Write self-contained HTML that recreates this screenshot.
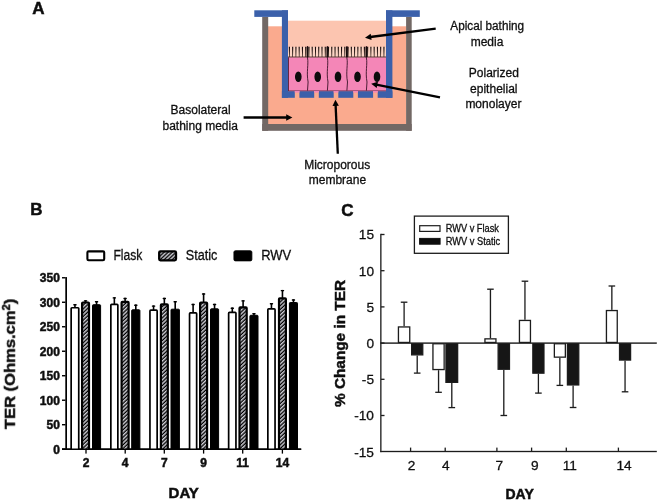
<!DOCTYPE html><html><head><meta charset="utf-8"><title>Figure</title>
<style>html,body{margin:0;padding:0;background:#fff;}body{width:658px;height:500px;overflow:hidden;}svg{display:block;font-family:"Liberation Sans",sans-serif;}</style></head><body>
<svg width="658" height="500" viewBox="0 0 658 500">
<defs>
<pattern id="hatch" patternUnits="userSpaceOnUse" width="2.75" height="2.75" patternTransform="rotate(-43)"><rect width="2.75" height="2.75" fill="#000"/><rect width="2.75" height="1.45" fill="#cfcfd6"/></pattern>
<filter id="soft" x="-5%" y="-5%" width="110%" height="110%"><feGaussianBlur stdDeviation="0.35"/></filter>
<filter id="idf" x="0" y="0" width="100%" height="100%" filterUnits="userSpaceOnUse"><feGaussianBlur stdDeviation="0.25"/></filter>
<clipPath id="cb"><rect x="60" y="270" width="245" height="179.2"/></clipPath>
</defs>
<rect width="658" height="500" fill="#fff"/>
<g filter="url(#soft)">
<rect x="268" y="26.3" width="138.2" height="98" fill="#FAAA8E"/>
<rect x="262.2" y="16.9" width="6" height="113.9" fill="#726865"/>
<rect x="406.1" y="16.9" width="5.6" height="113.9" fill="#726865"/>
<rect x="262.2" y="124" width="149.5" height="6.8" fill="#726865"/>
<rect x="288" y="20.7" width="98" height="37" fill="#FCC5B0"/>
<rect x="288" y="57" width="98" height="34.6" fill="#F486B7"/>
<rect x="288" y="57" width="0.7" height="34" fill="#5a2038"/>
<rect x="288" y="90.7" width="98" height="0.6" fill="#6a2848"/>
<rect x="288" y="57" width="0.7" height="34" fill="#5a2038"/>
<rect x="288" y="90.7" width="98" height="0.6" fill="#6a2848"/>
<rect x="254.3" y="10.3" width="33.7" height="6.6" fill="#3A60AA"/>
<rect x="386" y="10.3" width="33.8" height="6.6" fill="#3A60AA"/>
<rect x="281.9" y="10.3" width="6.1" height="87.5" fill="#3A60AA"/>
<rect x="386" y="10.3" width="6.4" height="87.5" fill="#3A60AA"/>
<rect x="281.9" y="91.3" width="110.5" height="6.5" fill="#3A60AA"/>
<rect x="294.8" y="91" width="4.6" height="7" fill="#FAAA8E"/>
<rect x="294.8" y="91" width="4.6" height="1.6" fill="#F486B7"/>
<rect x="314.2" y="91" width="4.6" height="7" fill="#FAAA8E"/>
<rect x="314.2" y="91" width="4.6" height="1.6" fill="#F486B7"/>
<rect x="333.7" y="91" width="4.6" height="7" fill="#FAAA8E"/>
<rect x="333.7" y="91" width="4.6" height="1.6" fill="#F486B7"/>
<rect x="353.3" y="91" width="4.6" height="7" fill="#FAAA8E"/>
<rect x="353.3" y="91" width="4.6" height="1.6" fill="#F486B7"/>
<rect x="373.1" y="91" width="4.6" height="7" fill="#FAAA8E"/>
<rect x="373.1" y="91" width="4.6" height="1.6" fill="#F486B7"/>
<rect x="288" y="46.9" width="98" height="10.4" fill="#FBD4C3"/>
<path d="M288.80 46.7 L290.00 46.7 L289.70 57 L289.10 57 Z" fill="#1a0c0a"/>
<path d="M292.06 46.7 L293.26 46.7 L292.96 57 L292.36 57 Z" fill="#1a0c0a"/>
<path d="M295.32 46.7 L296.52 46.7 L296.22 57 L295.62 57 Z" fill="#1a0c0a"/>
<path d="M298.58 46.7 L299.78 46.7 L299.48 57 L298.88 57 Z" fill="#1a0c0a"/>
<path d="M301.84 46.7 L303.04 46.7 L302.74 57 L302.14 57 Z" fill="#1a0c0a"/>
<path d="M305.10 46.7 L306.30 46.7 L306.00 57 L305.40 57 Z" fill="#1a0c0a"/>
<path d="M308.36 46.7 L309.56 46.7 L309.26 57 L308.66 57 Z" fill="#1a0c0a"/>
<path d="M311.62 46.7 L312.82 46.7 L312.52 57 L311.92 57 Z" fill="#1a0c0a"/>
<path d="M314.88 46.7 L316.08 46.7 L315.78 57 L315.18 57 Z" fill="#1a0c0a"/>
<path d="M318.14 46.7 L319.34 46.7 L319.04 57 L318.44 57 Z" fill="#1a0c0a"/>
<path d="M321.40 46.7 L322.60 46.7 L322.30 57 L321.70 57 Z" fill="#1a0c0a"/>
<path d="M324.66 46.7 L325.86 46.7 L325.56 57 L324.96 57 Z" fill="#1a0c0a"/>
<path d="M327.92 46.7 L329.12 46.7 L328.82 57 L328.22 57 Z" fill="#1a0c0a"/>
<path d="M331.18 46.7 L332.38 46.7 L332.08 57 L331.48 57 Z" fill="#1a0c0a"/>
<path d="M334.44 46.7 L335.64 46.7 L335.34 57 L334.74 57 Z" fill="#1a0c0a"/>
<path d="M337.70 46.7 L338.90 46.7 L338.60 57 L338.00 57 Z" fill="#1a0c0a"/>
<path d="M340.96 46.7 L342.16 46.7 L341.86 57 L341.26 57 Z" fill="#1a0c0a"/>
<path d="M344.22 46.7 L345.42 46.7 L345.12 57 L344.52 57 Z" fill="#1a0c0a"/>
<path d="M347.48 46.7 L348.68 46.7 L348.38 57 L347.78 57 Z" fill="#1a0c0a"/>
<path d="M350.74 46.7 L351.94 46.7 L351.64 57 L351.04 57 Z" fill="#1a0c0a"/>
<path d="M354.00 46.7 L355.20 46.7 L354.90 57 L354.30 57 Z" fill="#1a0c0a"/>
<path d="M357.26 46.7 L358.46 46.7 L358.16 57 L357.56 57 Z" fill="#1a0c0a"/>
<path d="M360.52 46.7 L361.72 46.7 L361.42 57 L360.82 57 Z" fill="#1a0c0a"/>
<path d="M363.78 46.7 L364.98 46.7 L364.68 57 L364.08 57 Z" fill="#1a0c0a"/>
<path d="M367.04 46.7 L368.24 46.7 L367.94 57 L367.34 57 Z" fill="#1a0c0a"/>
<path d="M370.30 46.7 L371.50 46.7 L371.20 57 L370.60 57 Z" fill="#1a0c0a"/>
<path d="M373.56 46.7 L374.76 46.7 L374.46 57 L373.86 57 Z" fill="#1a0c0a"/>
<path d="M376.82 46.7 L378.02 46.7 L377.72 57 L377.12 57 Z" fill="#1a0c0a"/>
<path d="M380.08 46.7 L381.28 46.7 L380.98 57 L380.38 57 Z" fill="#1a0c0a"/>
<path d="M383.34 46.7 L384.54 46.7 L384.24 57 L383.64 57 Z" fill="#1a0c0a"/>
<rect x="288" y="56.6" width="98" height="0.8" fill="#3a1a1a"/>
<path d="M307.5 46 L307.5 58 C308.8 64 306.2 72 308.1 82 L307.5 90.6" fill="none" stroke="#3a1228" stroke-width="0.9"/>
<rect x="306.6" y="46.7" width="1.8" height="10.5" fill="#160a0a"/>
<path d="M327.4 46 L327.4 58 C328.7 64 326.09999999999997 72 328.0 82 L327.4 90.6" fill="none" stroke="#3a1228" stroke-width="0.9"/>
<rect x="326.5" y="46.7" width="1.8" height="10.5" fill="#160a0a"/>
<path d="M346.9 46 L346.9 58 C348.2 64 345.59999999999997 72 347.5 82 L346.9 90.6" fill="none" stroke="#3a1228" stroke-width="0.9"/>
<rect x="346.0" y="46.7" width="1.8" height="10.5" fill="#160a0a"/>
<path d="M366.4 46 L366.4 58 C367.7 64 365.09999999999997 72 367.0 82 L366.4 90.6" fill="none" stroke="#3a1228" stroke-width="0.9"/>
<rect x="365.5" y="46.7" width="1.8" height="10.5" fill="#160a0a"/>
<ellipse cx="298.3" cy="76.8" rx="3.3" ry="5.3" fill="#0a0a0a"/>
<ellipse cx="317.7" cy="76.8" rx="3.3" ry="5.3" fill="#0a0a0a"/>
<ellipse cx="338.0" cy="76.8" rx="3.3" ry="5.3" fill="#0a0a0a"/>
<ellipse cx="357.5" cy="76.8" rx="3.3" ry="5.3" fill="#0a0a0a"/>
<ellipse cx="377.0" cy="76.8" rx="3.3" ry="5.3" fill="#0a0a0a"/>
</g>
<g filter="url(#idf)">
<line x1="435.7" y1="28.6" x2="370.2" y2="37.0" stroke="#000" stroke-width="2.3"/>
<polygon points="365.0,37.7 370.7,33.7 371.6,40.1" fill="#000"/>
<line x1="440.0" y1="97.3" x2="376.3" y2="84.7" stroke="#000" stroke-width="2.3"/>
<polygon points="371.2,83.7 377.9,81.8 376.7,88.0" fill="#000"/>
<line x1="243.6" y1="117.5" x2="287.2" y2="117.5" stroke="#000" stroke-width="2.3"/>
<polygon points="292.4,117.5 286.2,120.7 286.2,114.3" fill="#000"/>
<line x1="337.8" y1="153.7" x2="335.6" y2="104.9" stroke="#000" stroke-width="2.3"/>
<polygon points="335.4,99.7 338.9,105.8 332.5,106.0" fill="#000"/>
<text x="487.2" y="30.0" font-size="12" text-anchor="middle" font-weight="normal" fill="#111" stroke="#111" stroke-width="0.3" textLength="73.8" lengthAdjust="spacingAndGlyphs">Apical bathing</text>
<text x="487.0" y="46.0" font-size="12" text-anchor="middle" font-weight="normal" fill="#111" stroke="#111" stroke-width="0.3" >media</text>
<text x="493.8" y="76.6" font-size="12" text-anchor="middle" font-weight="normal" fill="#111" stroke="#111" stroke-width="0.3" >Polarized</text>
<text x="493.8" y="92.6" font-size="12" text-anchor="middle" font-weight="normal" fill="#111" stroke="#111" stroke-width="0.3" >epithelial</text>
<text x="493.4" y="107.6" font-size="12" text-anchor="middle" font-weight="normal" fill="#111" stroke="#111" stroke-width="0.3" >monolayer</text>
<text x="200.6" y="114.3" font-size="12" text-anchor="middle" font-weight="normal" fill="#111" stroke="#111" stroke-width="0.3" >Basolateral</text>
<text x="200.2" y="129.6" font-size="12" text-anchor="middle" font-weight="normal" fill="#111" stroke="#111" stroke-width="0.3" >bathing media</text>
<text x="337.2" y="169" font-size="12" text-anchor="middle" font-weight="normal" fill="#111" stroke="#111" stroke-width="0.3" >Microporous</text>
<text x="337.4" y="184.3" font-size="12" text-anchor="middle" font-weight="normal" fill="#111" stroke="#111" stroke-width="0.3" >membrane</text>
<text x="32.3" y="14.2" font-size="17" text-anchor="start" font-weight="bold" fill="#111" stroke="#111" stroke-width="0.5" >A</text>
<text x="30.2" y="215.2" font-size="17" text-anchor="start" font-weight="bold" fill="#111" stroke="#111" stroke-width="0.5" >B</text>
<text x="341.2" y="215.6" font-size="17" text-anchor="start" font-weight="bold" fill="#111" stroke="#111" stroke-width="0.5" >C</text>
<rect x="65.3" y="277.1" width="1.7" height="172.80" fill="#000"/>
<rect x="62" y="448.50" width="239.2" height="1.4" fill="#000"/>
<rect x="62" y="448.50" width="3.5" height="1.4" fill="#000"/>
<text x="59.9" y="453.5" font-size="12" text-anchor="end" font-weight="bold" fill="#111" stroke="#111" stroke-width="0.5" >0</text>
<rect x="62" y="424.01" width="3.5" height="1.4" fill="#000"/>
<text x="59.9" y="429.0" font-size="12" text-anchor="end" font-weight="bold" fill="#111" stroke="#111" stroke-width="0.5" >50</text>
<rect x="62" y="399.52" width="3.5" height="1.4" fill="#000"/>
<text x="59.9" y="404.5" font-size="12" text-anchor="end" font-weight="bold" fill="#111" stroke="#111" stroke-width="0.5" >100</text>
<rect x="62" y="375.03" width="3.5" height="1.4" fill="#000"/>
<text x="59.9" y="380.0" font-size="12" text-anchor="end" font-weight="bold" fill="#111" stroke="#111" stroke-width="0.5" >150</text>
<rect x="62" y="350.54" width="3.5" height="1.4" fill="#000"/>
<text x="59.9" y="355.5" font-size="12" text-anchor="end" font-weight="bold" fill="#111" stroke="#111" stroke-width="0.5" >200</text>
<rect x="62" y="326.05" width="3.5" height="1.4" fill="#000"/>
<text x="59.9" y="331.1" font-size="12" text-anchor="end" font-weight="bold" fill="#111" stroke="#111" stroke-width="0.5" >250</text>
<rect x="62" y="301.56" width="3.5" height="1.4" fill="#000"/>
<text x="59.9" y="306.6" font-size="12" text-anchor="end" font-weight="bold" fill="#111" stroke="#111" stroke-width="0.5" >300</text>
<rect x="62" y="277.07" width="3.5" height="1.4" fill="#000"/>
<text x="59.9" y="282.1" font-size="12" text-anchor="end" font-weight="bold" fill="#111" stroke="#111" stroke-width="0.5" >350</text>
<g clip-path="url(#cb)">
<rect x="74.15" y="304.1" width="1.6" height="3.8" fill="#000"/>
<rect x="73.25" y="304.1" width="3.4" height="1.4" rx="0.4" fill="#000"/>
<rect x="71.15" y="307.75" width="7.60" height="145.30" rx="0.8" fill="#fff" stroke="#000" stroke-width="1.7"/>
<rect x="84.75" y="300.2" width="1.6" height="2.2" fill="#000"/>
<rect x="83.85" y="300.2" width="3.4" height="1.4" rx="0.4" fill="#000"/>
<rect x="82.10" y="302.50" width="6.90" height="150.80" rx="0.8" fill="url(#hatch)" stroke="#000" stroke-width="2.2"/>
<rect x="95.75" y="301.0" width="1.6" height="4.2" fill="#000"/>
<rect x="94.85" y="301.0" width="3.4" height="1.4" rx="0.4" fill="#000"/>
<rect x="92.50" y="304.70" width="8.10" height="148.00" rx="0.8" fill="#000" stroke="#000" stroke-width="1.0"/>
<rect x="113.55" y="297.2" width="1.6" height="7.3" fill="#000"/>
<rect x="112.65" y="297.2" width="3.4" height="1.4" rx="0.4" fill="#000"/>
<rect x="110.85" y="304.35" width="7.00" height="148.70" rx="0.8" fill="#fff" stroke="#000" stroke-width="1.7"/>
<rect x="124.30" y="297.8" width="1.6" height="4.0" fill="#000"/>
<rect x="123.40" y="297.8" width="3.4" height="1.4" rx="0.4" fill="#000"/>
<rect x="121.60" y="301.90" width="7.00" height="151.40" rx="0.8" fill="url(#hatch)" stroke="#000" stroke-width="2.2"/>
<rect x="135.00" y="304.5" width="1.6" height="5.8" fill="#000"/>
<rect x="134.10" y="304.5" width="3.4" height="1.4" rx="0.4" fill="#000"/>
<rect x="131.70" y="309.80" width="8.20" height="142.90" rx="0.8" fill="#000" stroke="#000" stroke-width="1.0"/>
<rect x="152.75" y="305.4" width="1.6" height="4.9" fill="#000"/>
<rect x="151.85" y="305.4" width="3.4" height="1.4" rx="0.4" fill="#000"/>
<rect x="149.95" y="310.15" width="7.20" height="142.90" rx="0.8" fill="#fff" stroke="#000" stroke-width="1.7"/>
<rect x="163.55" y="297.8" width="1.6" height="6.4" fill="#000"/>
<rect x="162.65" y="297.8" width="3.4" height="1.4" rx="0.4" fill="#000"/>
<rect x="160.90" y="304.30" width="6.90" height="149.00" rx="0.8" fill="url(#hatch)" stroke="#000" stroke-width="2.2"/>
<rect x="174.40" y="301.0" width="1.6" height="8.7" fill="#000"/>
<rect x="173.50" y="301.0" width="3.4" height="1.4" rx="0.4" fill="#000"/>
<rect x="171.00" y="309.20" width="8.40" height="143.50" rx="0.8" fill="#000" stroke="#000" stroke-width="1.0"/>
<rect x="192.30" y="303.8" width="1.6" height="9.2" fill="#000"/>
<rect x="191.40" y="303.8" width="3.4" height="1.4" rx="0.4" fill="#000"/>
<rect x="189.55" y="312.85" width="7.10" height="140.20" rx="0.8" fill="#fff" stroke="#000" stroke-width="1.7"/>
<rect x="202.80" y="293.3" width="1.6" height="9.1" fill="#000"/>
<rect x="201.90" y="293.3" width="3.4" height="1.4" rx="0.4" fill="#000"/>
<rect x="200.10" y="302.50" width="7.00" height="150.80" rx="0.8" fill="url(#hatch)" stroke="#000" stroke-width="2.2"/>
<rect x="213.75" y="303.8" width="1.6" height="5.5" fill="#000"/>
<rect x="212.85" y="303.8" width="3.4" height="1.4" rx="0.4" fill="#000"/>
<rect x="210.50" y="308.80" width="8.10" height="143.90" rx="0.8" fill="#000" stroke="#000" stroke-width="1.0"/>
<rect x="231.50" y="307.5" width="1.6" height="5.0" fill="#000"/>
<rect x="230.60" y="307.5" width="3.4" height="1.4" rx="0.4" fill="#000"/>
<rect x="228.65" y="312.35" width="7.30" height="140.70" rx="0.8" fill="#fff" stroke="#000" stroke-width="1.7"/>
<rect x="242.30" y="300.2" width="1.6" height="7.1" fill="#000"/>
<rect x="241.40" y="300.2" width="3.4" height="1.4" rx="0.4" fill="#000"/>
<rect x="239.50" y="307.40" width="7.20" height="145.90" rx="0.8" fill="url(#hatch)" stroke="#000" stroke-width="2.2"/>
<rect x="253.15" y="313.0" width="1.6" height="2.8" fill="#000"/>
<rect x="252.25" y="313.0" width="3.4" height="1.4" rx="0.4" fill="#000"/>
<rect x="249.90" y="315.30" width="8.10" height="137.40" rx="0.8" fill="#000" stroke="#000" stroke-width="1.0"/>
<rect x="270.65" y="303.0" width="1.6" height="6.1" fill="#000"/>
<rect x="269.75" y="303.0" width="3.4" height="1.4" rx="0.4" fill="#000"/>
<rect x="267.85" y="308.95" width="7.20" height="144.10" rx="0.8" fill="#fff" stroke="#000" stroke-width="1.7"/>
<rect x="281.65" y="289.9" width="1.6" height="8.3" fill="#000"/>
<rect x="280.75" y="289.9" width="3.4" height="1.4" rx="0.4" fill="#000"/>
<rect x="279.00" y="298.30" width="6.90" height="155.00" rx="0.8" fill="url(#hatch)" stroke="#000" stroke-width="2.2"/>
<rect x="292.65" y="299.3" width="1.6" height="3.7" fill="#000"/>
<rect x="291.75" y="299.3" width="3.4" height="1.4" rx="0.4" fill="#000"/>
<rect x="289.40" y="302.50" width="8.10" height="150.20" rx="0.8" fill="#000" stroke="#000" stroke-width="1.0"/>
</g>
<rect x="62" y="448.50" width="239.2" height="1.4" fill="#000"/>
<rect x="85.35" y="449.2" width="1.3" height="4.4" fill="#000"/>
<text x="86" y="467.3" font-size="12" text-anchor="middle" font-weight="bold" fill="#111" stroke="#111" stroke-width="0.5" >2</text>
<rect x="124.55" y="449.2" width="1.3" height="4.4" fill="#000"/>
<text x="125.2" y="467.3" font-size="12" text-anchor="middle" font-weight="bold" fill="#111" stroke="#111" stroke-width="0.5" >4</text>
<rect x="163.65" y="449.2" width="1.3" height="4.4" fill="#000"/>
<text x="164.3" y="467.3" font-size="12" text-anchor="middle" font-weight="bold" fill="#111" stroke="#111" stroke-width="0.5" >7</text>
<rect x="202.95" y="449.2" width="1.3" height="4.4" fill="#000"/>
<text x="203.6" y="467.3" font-size="12" text-anchor="middle" font-weight="bold" fill="#111" stroke="#111" stroke-width="0.5" >9</text>
<rect x="242.05" y="449.2" width="1.3" height="4.4" fill="#000"/>
<text x="242.7" y="467.3" font-size="12" text-anchor="middle" font-weight="bold" fill="#111" stroke="#111" stroke-width="0.5" >11</text>
<rect x="281.75" y="449.2" width="1.3" height="4.4" fill="#000"/>
<text x="282.4" y="467.3" font-size="12" text-anchor="middle" font-weight="bold" fill="#111" stroke="#111" stroke-width="0.5" >14</text>
<text x="183.7" y="497.8" font-size="15" text-anchor="middle" font-weight="bold" fill="#111" stroke="#111" stroke-width="0.5" >DAY</text>
<text transform="translate(14.9,429.2) rotate(-90)" font-size="15" font-weight="bold" fill="#111" stroke="#111" stroke-width="0.45" textLength="130.5" lengthAdjust="spacingAndGlyphs">TER (Ohms.cm<tspan font-size="10" dy="-5">2</tspan><tspan dy="5">)</tspan></text>
<rect x="87.4" y="251.4" width="16.8" height="8.9" rx="1.2" fill="#fff" stroke="#000" stroke-width="2.1"/>
<rect x="159.2" y="251.4" width="16.8" height="8.9" rx="1.2" fill="url(#hatch)" stroke="#000" stroke-width="2.3"/>
<rect x="233.9" y="250.7" width="18.0" height="10.2" rx="1.5" fill="#000" stroke="#000" stroke-width="0.8"/>
<text x="113.5" y="260.2" font-size="14" text-anchor="start" font-weight="normal" fill="#111" stroke="#111" stroke-width="0.3" textLength="28.8" lengthAdjust="spacingAndGlyphs">Flask</text>
<text x="185.8" y="260.2" font-size="14" text-anchor="start" font-weight="normal" fill="#111" stroke="#111" stroke-width="0.3" textLength="31.6" lengthAdjust="spacingAndGlyphs">Static</text>
<text x="261.2" y="260.2" font-size="14" text-anchor="start" font-weight="normal" fill="#111" stroke="#111" stroke-width="0.3" textLength="30" lengthAdjust="spacingAndGlyphs">RWV</text>
<rect x="380.2" y="233.8" width="1.3" height="218.35" fill="#1c1c1c"/>
<rect x="380.2" y="450.85" width="276.6" height="1.3" fill="#1c1c1c"/>
<rect x="380.2" y="342.40000000000003" width="276.6" height="1.4" fill="#1c1c1c"/>
<rect x="381" y="233.85" width="3.5" height="1.3" fill="#1c1c1c"/>
<text x="374.0" y="239.4" font-size="13.7" text-anchor="end" font-weight="normal" fill="#111" stroke="#111" stroke-width="0.3" >15</text>
<rect x="381" y="270.05" width="3.5" height="1.3" fill="#1c1c1c"/>
<text x="374.0" y="275.6" font-size="13.7" text-anchor="end" font-weight="normal" fill="#111" stroke="#111" stroke-width="0.3" >10</text>
<rect x="381" y="306.25" width="3.5" height="1.3" fill="#1c1c1c"/>
<text x="374.0" y="311.8" font-size="13.7" text-anchor="end" font-weight="normal" fill="#111" stroke="#111" stroke-width="0.3" >5</text>
<rect x="381" y="342.45" width="3.5" height="1.3" fill="#1c1c1c"/>
<text x="374.0" y="348.0" font-size="13.7" text-anchor="end" font-weight="normal" fill="#111" stroke="#111" stroke-width="0.3" >0</text>
<rect x="381" y="378.65" width="3.5" height="1.3" fill="#1c1c1c"/>
<text x="374.0" y="384.2" font-size="13.7" text-anchor="end" font-weight="normal" fill="#111" stroke="#111" stroke-width="0.3" >-5</text>
<rect x="381" y="414.85" width="3.5" height="1.3" fill="#1c1c1c"/>
<text x="374.0" y="420.4" font-size="13.7" text-anchor="end" font-weight="normal" fill="#111" stroke="#111" stroke-width="0.3" >-10</text>
<text x="374.0" y="456.6" font-size="13.7" text-anchor="end" font-weight="normal" fill="#111" stroke="#111" stroke-width="0.3" >-15</text>
<rect x="403.45" y="302.2" width="1.3" height="24.1" fill="#1c1c1c"/>
<rect x="400.80" y="301.55" width="6.6" height="1.3" fill="#1c1c1c"/>
<rect x="398.45" y="326.95" width="11.30" height="15.50" fill="#fff" stroke="#1c1c1c" stroke-width="1.3"/>
<rect x="416.55" y="355.5" width="1.3" height="17.6" fill="#1c1c1c"/>
<rect x="413.90" y="372.45" width="6.6" height="1.3" fill="#1c1c1c"/>
<rect x="411.65" y="343.75" width="11.10" height="11.10" fill="#161616" stroke="#1c1c1c" stroke-width="1.3"/>
<rect x="437.90" y="370.2" width="1.3" height="22.1" fill="#1c1c1c"/>
<rect x="435.25" y="391.65" width="6.6" height="1.3" fill="#1c1c1c"/>
<rect x="432.95" y="343.75" width="11.20" height="25.80" fill="#fff" stroke="#1c1c1c" stroke-width="1.3"/>
<rect x="451.15" y="383.0" width="1.3" height="24.6" fill="#1c1c1c"/>
<rect x="448.50" y="406.95" width="6.6" height="1.3" fill="#1c1c1c"/>
<rect x="445.95" y="343.75" width="11.70" height="38.60" fill="#161616" stroke="#1c1c1c" stroke-width="1.3"/>
<rect x="489.80" y="289.2" width="1.3" height="49.0" fill="#1c1c1c"/>
<rect x="487.15" y="288.55" width="6.6" height="1.3" fill="#1c1c1c"/>
<rect x="484.95" y="338.85" width="11.00" height="3.60" fill="#fff" stroke="#1c1c1c" stroke-width="1.3"/>
<rect x="503.15" y="369.9" width="1.3" height="45.6" fill="#1c1c1c"/>
<rect x="500.50" y="414.85" width="6.6" height="1.3" fill="#1c1c1c"/>
<rect x="498.15" y="343.75" width="11.30" height="25.50" fill="#161616" stroke="#1c1c1c" stroke-width="1.3"/>
<rect x="524.30" y="281.2" width="1.3" height="38.6" fill="#1c1c1c"/>
<rect x="521.65" y="280.55" width="6.6" height="1.3" fill="#1c1c1c"/>
<rect x="519.45" y="320.45" width="11.00" height="22.00" fill="#fff" stroke="#1c1c1c" stroke-width="1.3"/>
<rect x="537.75" y="373.8" width="1.3" height="19.3" fill="#1c1c1c"/>
<rect x="535.10" y="392.45" width="6.6" height="1.3" fill="#1c1c1c"/>
<rect x="532.85" y="343.75" width="11.10" height="29.40" fill="#161616" stroke="#1c1c1c" stroke-width="1.3"/>
<rect x="559.20" y="357.8" width="1.3" height="27.6" fill="#1c1c1c"/>
<rect x="556.55" y="384.75" width="6.6" height="1.3" fill="#1c1c1c"/>
<rect x="554.35" y="343.75" width="11.00" height="13.40" fill="#fff" stroke="#1c1c1c" stroke-width="1.3"/>
<rect x="572.45" y="385.6" width="1.3" height="21.9" fill="#1c1c1c"/>
<rect x="569.80" y="406.85" width="6.6" height="1.3" fill="#1c1c1c"/>
<rect x="567.45" y="343.75" width="11.30" height="41.20" fill="#161616" stroke="#1c1c1c" stroke-width="1.3"/>
<rect x="611.20" y="286.0" width="1.3" height="23.9" fill="#1c1c1c"/>
<rect x="608.55" y="285.35" width="6.6" height="1.3" fill="#1c1c1c"/>
<rect x="606.45" y="310.55" width="10.80" height="31.90" fill="#fff" stroke="#1c1c1c" stroke-width="1.3"/>
<rect x="624.40" y="360.7" width="1.3" height="31.1" fill="#1c1c1c"/>
<rect x="621.75" y="391.15" width="6.6" height="1.3" fill="#1c1c1c"/>
<rect x="619.55" y="343.75" width="11.00" height="16.30" fill="#161616" stroke="#1c1c1c" stroke-width="1.3"/>
<rect x="409.95" y="447.6" width="1.3" height="3.8" fill="#1c1c1c"/>
<text x="411.5" y="469.8" font-size="13.7" text-anchor="middle" font-weight="normal" fill="#111" stroke="#111" stroke-width="0.3" >2</text>
<rect x="444.55" y="447.6" width="1.3" height="3.8" fill="#1c1c1c"/>
<text x="445.9" y="469.8" font-size="13.7" text-anchor="middle" font-weight="normal" fill="#111" stroke="#111" stroke-width="0.3" >4</text>
<rect x="496.25" y="447.6" width="1.3" height="3.8" fill="#1c1c1c"/>
<text x="499.3" y="469.8" font-size="13.7" text-anchor="middle" font-weight="normal" fill="#111" stroke="#111" stroke-width="0.3" >7</text>
<rect x="530.95" y="447.6" width="1.3" height="3.8" fill="#1c1c1c"/>
<text x="534.8" y="469.8" font-size="13.7" text-anchor="middle" font-weight="normal" fill="#111" stroke="#111" stroke-width="0.3" >9</text>
<rect x="565.65" y="447.6" width="1.3" height="3.8" fill="#1c1c1c"/>
<text x="569.8" y="469.8" font-size="13.7" text-anchor="middle" font-weight="normal" fill="#111" stroke="#111" stroke-width="0.3" >11</text>
<rect x="617.75" y="447.6" width="1.3" height="3.8" fill="#1c1c1c"/>
<text x="624.0" y="469.8" font-size="13.7" text-anchor="middle" font-weight="normal" fill="#111" stroke="#111" stroke-width="0.3" >14</text>
<text x="519.6" y="498.5" font-size="14" text-anchor="middle" font-weight="bold" fill="#111" stroke="#111" stroke-width="0.5" >DAY</text>
<text transform="translate(344.6,407) rotate(-90)" font-size="14" font-weight="bold" fill="#111" stroke="#111" stroke-width="0.45" textLength="127" lengthAdjust="spacingAndGlyphs">% Change in TER</text>
<rect x="414.4" y="216.1" width="94" height="37.2" fill="#fff" stroke="#1c1c1c" stroke-width="1.3"/>
<rect x="419.7" y="225.7" width="20.3" height="5.7" fill="#fff" stroke="#1c1c1c" stroke-width="1.2"/>
<rect x="419.6" y="238.4" width="20.5" height="5.8" fill="#111" stroke="#111" stroke-width="1"/>
<text x="445.7" y="232" font-size="10" text-anchor="start" font-weight="normal" fill="#111" stroke="#111" stroke-width="0.3" textLength="53.3" lengthAdjust="spacingAndGlyphs">RWV v Flask</text>
<text x="445.7" y="244.8" font-size="10" text-anchor="start" font-weight="normal" fill="#111" stroke="#111" stroke-width="0.3" textLength="54.5" lengthAdjust="spacingAndGlyphs">RWV v Static</text>
</g>
</svg></body></html>
